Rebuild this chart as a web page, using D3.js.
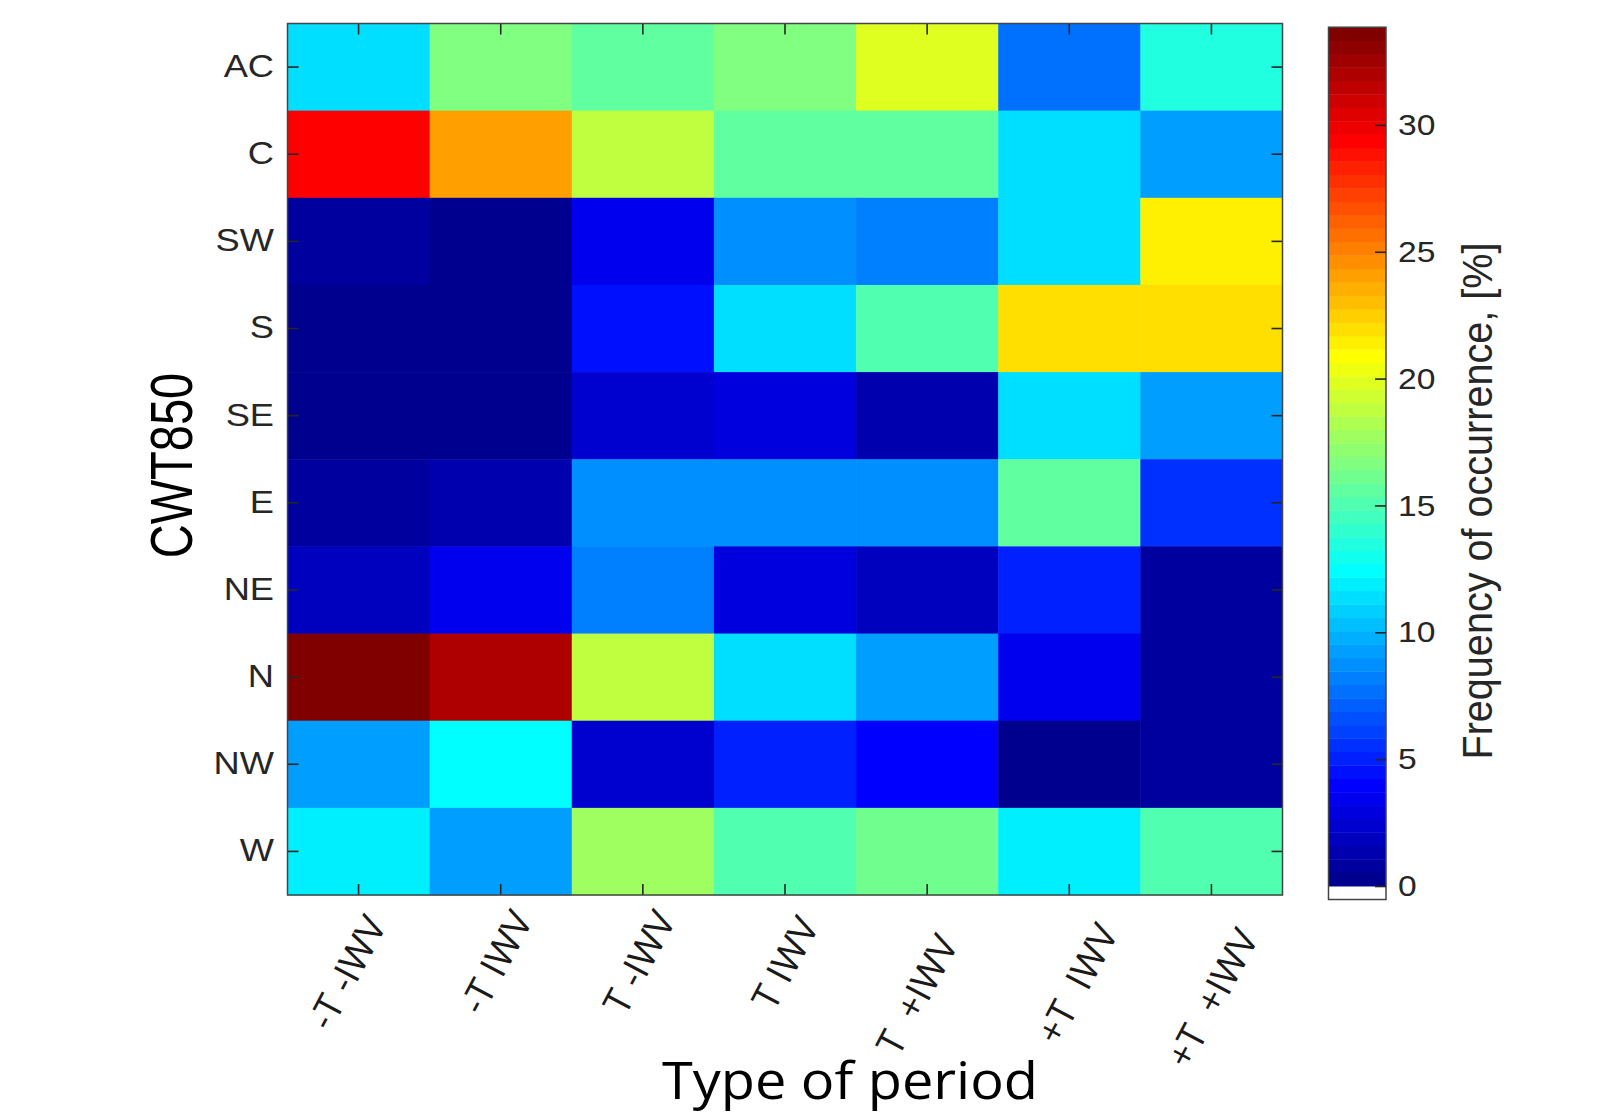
<!DOCTYPE html>
<html>
<head>
<meta charset="utf-8">
<script src="https://cdn.jsdelivr.net/npm/d3@7"></script>
<style>
  html, body { margin: 0; padding: 0; background: #fff; }
  svg { display: block; }
</style>
</head>
<body>
<script>
var rows = ["AC", "C", "SW", "S", "SE", "E", "NE", "N", "NW", "W"];
var periods = ["-T -IWV", "-T IWV", "T -IWV", "T IWV", "T  +IWV", "+T  IWV", "+T  +IWV"];

// frequency of occurrence [%], one array per CWT850 type, in the order of periods
var freq = [
  [11.4, 16.7, 15.6, 16.7, 19.8, 7.7, 13.5],
  [29.4, 24.1, 18.8, 15.6, 15.6, 11.4, 9.3],
  [0.8, 0.3, 3.4, 8.7, 8.2, 11.4, 21.4],
  [0.3, 0.3, 4.5, 11.4, 15.1, 22.0, 22.0],
  [0.2, 0.3, 2.4, 2.9, 1.3, 11.4, 9.3],
  [0.8, 1.3, 8.7, 8.7, 8.7, 15.6, 5.6],
  [1.9, 3.4, 8.2, 2.9, 1.9, 5.0, 0.8],
  [33.8, 31.9, 18.8, 11.4, 9.3, 3.4, 0.8],
  [9.3, 12.4, 2.4, 5.0, 4.0, 0.2, 0.8],
  [11.8, 9.3, 17.7, 15.1, 16.1, 11.8, 15.1]
];

var cbTicks = [0, 5, 10, 15, 20, 25, 30];
var cmin = -0.532, cmax = 33.85;

var W = 1604, H = 1113;
var plot = {left: 287.5, right: 1282.5, top: 23.5, bottom: 895};
var cb = {left: 1328.5, right: 1386, top: 27.2, bottom: 899.5};
var tickLen = 11;
var axisColor = "#262626";
var helv = "'Liberation Sans', Arial, Helvetica, sans-serif";
var sans = "'Open Sans', 'Noto Sans', sans-serif";

// small hand nudges for the rotated period labels (end of baseline relative to column centre)
var labelNudge = [[29, 925], [33, 920], [34, 920], [35, 926], [32, 944], [50, 933], [48, 938]];

// MATLAB jet(m)
var jet = function(m) {
  var n, u, k, i, g, cols = [], r, b;
  n = Math.ceil(m / 4);
  u = [];
  for (k = 1; k <= n; k++) u.push(k / n);
  for (k = 1; k < n; k++) u.push(1);
  for (k = n; k >= 1; k--) u.push(k / n);
  for (i = 0; i < m; i++) cols.push([0, 0, 0]);
  var g0 = Math.ceil(n / 2) - (m % 4 === 1 ? 1 : 0);
  for (k = 1; k <= u.length; k++) {
    g = g0 + k;
    r = g + n;
    b = g - n;
    if (g >= 1 && g <= m) cols[g - 1][1] = u[k - 1];
    if (r >= 1 && r <= m) cols[r - 1][0] = u[k - 1];
    if (b >= 1 && b <= m) cols[b - 1][2] = u[k - 1];
  }
  return cols.map(function(c) {
    return d3.rgb(Math.round(c[0] * 255), Math.round(c[1] * 255), Math.round(c[2] * 255)).formatHex();
  });
};

var palette = ["#ffffff"].concat(jet(64));
var color = d3.scaleQuantize().domain([cmin, cmax]).range(palette);

var svg = d3.select("body").append("svg").attr("width", W).attr("height", H);
svg.append("rect").attr("width", W).attr("height", H).attr("fill", "#fff");

var x = d3.scaleBand().domain(periods).range([plot.left, plot.right]);
var y = d3.scaleBand().domain(rows).range([plot.top, plot.bottom]);

// cells
var cells = [];
rows.forEach(function(r, i) {
  periods.forEach(function(p, j) {
    cells.push({row: r, period: p, value: freq[i][j]});
  });
});

svg.append("g").selectAll("rect").data(cells).enter().append("rect")
  .attr("x", function(d) { return x(d.period); })
  .attr("y", function(d) { return y(d.row); })
  .attr("width", x.bandwidth() + 0.5)
  .attr("height", y.bandwidth() + 0.5)
  .attr("fill", function(d) { return color(d.value); });

var styleAxis = function(g) {
  g.select(".domain").remove();
  g.selectAll(".tick line").attr("stroke", axisColor).attr("stroke-width", 1.6);
};

// ticks on all four sides, inward
svg.append("g").attr("transform", "translate(0," + plot.top + ")")
  .call(d3.axisTop(x).tickSize(-tickLen).tickFormat(""))
  .call(styleAxis);
svg.append("g").attr("transform", "translate(0," + plot.bottom + ")")
  .call(d3.axisBottom(x).tickSize(-tickLen).tickFormat(""))
  .call(styleAxis);
svg.append("g").attr("transform", "translate(" + plot.right + ",0)")
  .call(d3.axisRight(y).tickSize(-tickLen).tickFormat(""))
  .call(styleAxis);

var yAxis = svg.append("g").attr("transform", "translate(" + plot.left + ",0)")
  .call(d3.axisLeft(y).tickSize(-tickLen).tickPadding(13.5))
  .call(styleAxis);
yAxis.selectAll(".tick text")
  .attr("x", null)
  .attr("transform", "translate(-13.5,0) scale(1.17,1)")
  .attr("font-family", helv).attr("font-size", 31).attr("fill", axisColor);

svg.append("rect")
  .attr("x", plot.left).attr("y", plot.top)
  .attr("width", plot.right - plot.left).attr("height", plot.bottom - plot.top)
  .attr("fill", "none").attr("stroke", "#444").attr("stroke-width", 1.5);

// rotated period labels
svg.append("g").selectAll("text").data(periods).enter().append("text")
  .attr("transform", function(d, i) {
    var cx = x(d) + x.bandwidth() / 2 + labelNudge[i][0];
    return "translate(" + cx + "," + labelNudge[i][1] + ") rotate(-62)";
  })
  .attr("xml:space", "preserve")
  .attr("text-anchor", "end")
  .attr("font-family", sans).attr("font-size", 37.5).attr("fill", "#1a1a1a")
  .style("white-space", "pre")
  .text(function(d) { return d.replace(/ /g, "\u00a0"); });

svg.append("text")
  .attr("x", 850).attr("y", 1099)
  .attr("text-anchor", "middle")
  .attr("font-family", sans).attr("font-size", 51).attr("fill", "#000")
  .attr("textLength", 376).attr("lengthAdjust", "spacingAndGlyphs")
  .text("Type of period");

svg.append("text")
  .attr("transform", "translate(192,465.5) scale(1.28,1) rotate(-90)")
  .attr("text-anchor", "middle")
  .attr("font-family", helv).attr("font-size", 47).attr("fill", "#000")
  .text("CWT850");

// colorbar
var cy = d3.scaleLinear().domain([cmin, cmax]).range([cb.bottom, cb.top]);
var step = (cmax - cmin) / palette.length;

svg.append("g").selectAll("rect").data(palette).enter().append("rect")
  .attr("x", cb.left)
  .attr("y", function(d, k) { return cy(cmin + (k + 1) * step); })
  .attr("width", cb.right - cb.left)
  .attr("height", function(d, k) { return cy(cmin + k * step) - cy(cmin + (k + 1) * step) + 0.4; })
  .attr("fill", function(d) { return d; });

svg.append("rect")
  .attr("x", cb.left).attr("y", cb.top)
  .attr("width", cb.right - cb.left).attr("height", cb.bottom - cb.top)
  .attr("fill", "none").attr("stroke", "#444").attr("stroke-width", 1.5);

var cAxis = svg.append("g").attr("transform", "translate(" + cb.right + ",0)")
  .call(d3.axisRight(cy).tickValues(cbTicks).tickSize(-tickLen).tickPadding(12))
  .call(styleAxis);
cAxis.selectAll(".tick text")
  .attr("x", null)
  .attr("transform", "translate(12,0) scale(1.12,1)")
  .attr("font-family", helv).attr("font-size", 30).attr("fill", axisColor);

svg.append("text")
  .attr("transform", "translate(1491.7,501) scale(1.09,1) rotate(-90)")
  .attr("text-anchor", "middle")
  .attr("font-family", helv).attr("font-size", 39.6).attr("fill", axisColor)
  .text("Frequency of occurrence, [%]");
</script>
</body>
</html>
